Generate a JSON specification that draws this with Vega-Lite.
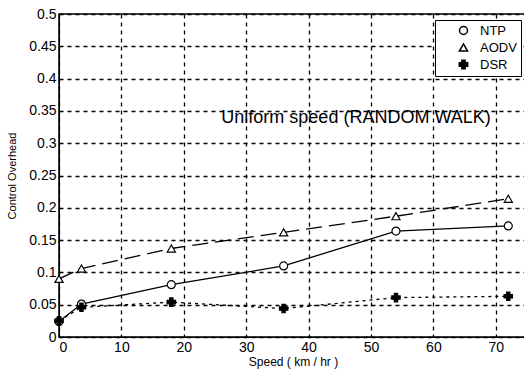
{
  "$schema": "https://vega.github.io/schema/vega-lite/v6.json",
  "autosize": "none",
  "width": 468,
  "height": 323,
  "padding": {"left": 59, "top": 14, "right": 0, "bottom": 39},
  "background": "white",
  "config": {
    "font": "Liberation Sans",
    "view": {"stroke": "black", "strokeWidth": 1.5},
    "axis": {
      "domainColor": "black",
      "gridColor": "black",
      "gridDash": [4, 4],
      "gridWidth": 1.3,
      "gridOpacity": 1,
      "ticks": false,
      "labelColor": "black",
      "titleColor": "black",
      "labelFont": "Liberation Sans",
      "titleFont": "Liberation Sans",
      "labelFontSize": 14,
      "labelOverlap": false,
      "titleFontWeight": "normal"
    },
    "legend": {
      "orient": "top-right",
      "offset": 6,
      "fillColor": "white",
      "strokeColor": "black",
      "padding": 4,
      "labelFontSize": 13,
      "labelColor": "black",
      "symbolOffset": 18,
      "labelOffset": 10,
      "rowPadding": 2
    }
  },
  "datasets": {
    "series": [
      {"speed": 0, "overhead": 0.024, "protocol": "NTP"},
      {"speed": 3.6, "overhead": 0.051, "protocol": "NTP"},
      {"speed": 18, "overhead": 0.081, "protocol": "NTP"},
      {"speed": 36, "overhead": 0.11, "protocol": "NTP"},
      {"speed": 54, "overhead": 0.164, "protocol": "NTP"},
      {"speed": 72, "overhead": 0.172, "protocol": "NTP"},
      {"speed": 0, "overhead": 0.09, "protocol": "AODV"},
      {"speed": 3.6, "overhead": 0.106, "protocol": "AODV"},
      {"speed": 18, "overhead": 0.137, "protocol": "AODV"},
      {"speed": 36, "overhead": 0.162, "protocol": "AODV"},
      {"speed": 54, "overhead": 0.187, "protocol": "AODV"},
      {"speed": 72, "overhead": 0.214, "protocol": "AODV"},
      {"speed": 0, "overhead": 0.025, "protocol": "DSR"},
      {"speed": 3.6, "overhead": 0.046, "protocol": "DSR"},
      {"speed": 18, "overhead": 0.054, "protocol": "DSR"},
      {"speed": 36, "overhead": 0.044, "protocol": "DSR"},
      {"speed": 54, "overhead": 0.061, "protocol": "DSR"},
      {"speed": 72, "overhead": 0.063, "protocol": "DSR"}
    ],
    "note": [
      {"speed": 47.6, "overhead": 0.339, "label": "Uniform speed (RANDOM WALK)"}
    ]
  },
  "encoding": {
    "x": {
      "field": "speed", "type": "quantitative",
      "scale": {"domain": [0, 75], "nice": false},
      "axis": {"values": [0, 10, 20, 30, 40, 50, 60, 70], "title": "Speed ( km / hr )", "titleFontSize": 12, "titlePadding": 2, "labelPadding": 3}
    },
    "y": {
      "field": "overhead", "type": "quantitative",
      "scale": {"domain": [0, 0.5], "nice": false},
      "axis": {"values": [0, 0.05, 0.1, 0.15, 0.2, 0.25, 0.3, 0.35, 0.4, 0.45, 0.5], "format": ".2~f", "title": "Control Overhead", "titleFontSize": 11, "titlePadding": 11, "labelPadding": 3}
    }
  },
  "layer": [
    {
      "data": {"name": "series"},
      "transform": [{"filter": "datum.protocol == 'NTP'"}],
      "mark": {"type": "line", "color": "black", "strokeWidth": 1.3},
      "encoding": {}
    },
    {
      "data": {"name": "series"},
      "transform": [{"filter": "datum.protocol == 'AODV'"}],
      "mark": {"type": "line", "color": "black", "strokeWidth": 1.3, "strokeDash": [16, 7]},
      "encoding": {}
    },
    {
      "data": {"name": "series"},
      "transform": [{"filter": "datum.protocol == 'DSR'"}],
      "mark": {"type": "line", "color": "black", "strokeWidth": 1.3, "strokeDash": [3, 4]},
      "encoding": {}
    },
    {
      "data": {"name": "series"},
      "mark": {"type": "point", "filled": true, "stroke": "black", "strokeWidth": 1.2, "opacity": 1},
      "encoding": {
        "shape": {
          "field": "protocol", "type": "nominal", "title": null,
          "scale": {"domain": ["NTP", "AODV", "DSR"], "range": ["circle", "triangle-up", "cross"]},
          "legend": {"encode": {"symbols": {"update": {"stroke": {"value": "black"}, "strokeWidth": {"value": 1.2}}}}}
        },
        "fill": {
          "field": "protocol", "type": "nominal", "title": null,
          "scale": {"domain": ["NTP", "AODV", "DSR"], "range": ["white", "white", "black"]},
          "legend": {"encode": {"symbols": {"update": {"stroke": {"value": "black"}, "strokeWidth": {"value": 1.2}}}}}
        },
        "size": {
          "field": "protocol", "type": "nominal", "title": null,
          "scale": {"domain": ["NTP", "AODV", "DSR"], "range": [64, 70, 36]},
          "legend": {"encode": {"symbols": {"update": {"stroke": {"value": "black"}, "strokeWidth": {"value": 1.2}}}}}
        }
      }
    },
    {
      "data": {"name": "note"},
      "mark": {"type": "text", "fontSize": 18, "color": "black", "font": "Liberation Sans"},
      "encoding": {
        "text": {"field": "label"}
      }
    }
  ]
}
